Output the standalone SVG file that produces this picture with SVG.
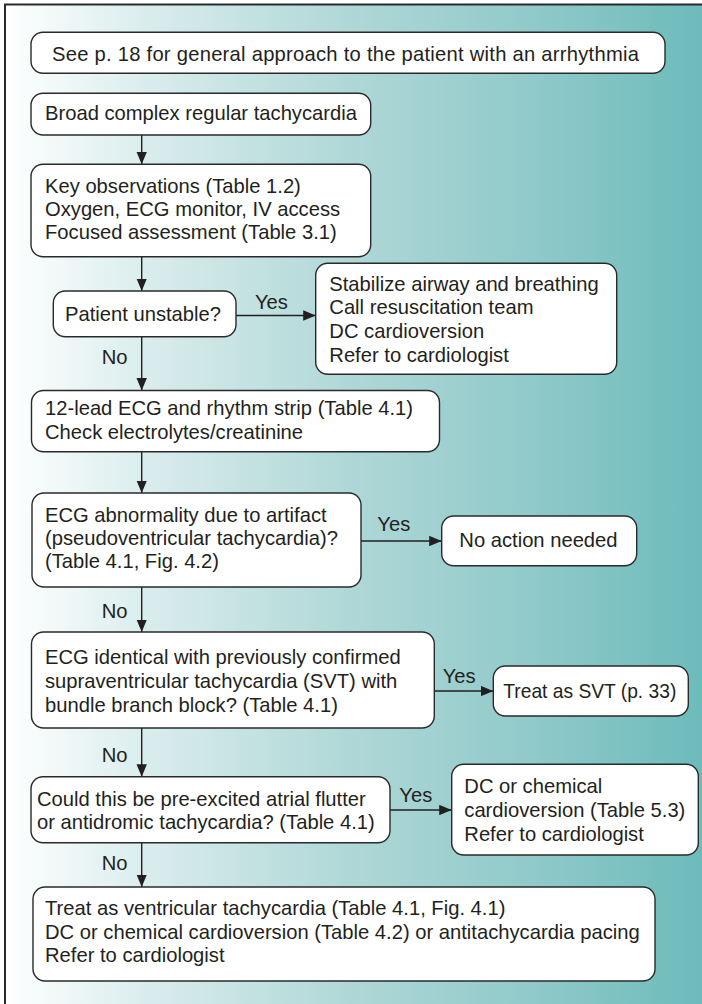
<svg xmlns="http://www.w3.org/2000/svg" width="702" height="1004" viewBox="0 0 702 1004">
<defs>
<linearGradient id="bg" gradientUnits="userSpaceOnUse" x1="5" y1="0" x2="702" y2="0">
<stop offset="0" stop-color="#ffffff"/>
<stop offset="0.2" stop-color="#daeded"/>
<stop offset="0.5" stop-color="#afd7d7"/>
<stop offset="0.75" stop-color="#91caca"/>
<stop offset="1" stop-color="#6dbbbb"/>
</linearGradient>
<marker id="ah" viewBox="0 0 12 10" refX="12" refY="5" markerWidth="12.5" markerHeight="10.5" markerUnits="userSpaceOnUse" orient="auto">
<path d="M0,0 L12,5 L0,10 z" fill="#231f20"/>
</marker>
<style>
.box{fill:#ffffff;stroke:#2a2a2a;stroke-width:1.4}
.t{font-family:"Liberation Sans",Arial,sans-serif;font-size:20.2px;fill:#231f20}
.c{fill:none;stroke:#231f20;stroke-width:1.4;marker-end:url(#ah)}
</style>
</defs>
<rect x="0" y="0" width="702" height="1004" fill="#ffffff"/>
<rect x="5" y="4.5" width="697" height="999.5" fill="url(#bg)"/>
<path d="M5,1004 V4.5 H702" fill="none" stroke="#2a2a2a" stroke-width="2"/>

<g id="connectors">
<line class="c" x1="141.7" y1="135" x2="141.7" y2="164.3"/>
<line class="c" x1="141.7" y1="256.7" x2="141.7" y2="291"/>
<line class="c" x1="236" y1="315.5" x2="315.7" y2="315.5"/>
<text class="t" x="255" y="309.3">Yes</text>
<line class="c" x1="141.7" y1="336.7" x2="141.7" y2="390.5"/>
<text class="t" x="101.7" y="364">No</text>
<line class="c" x1="141.7" y1="451.7" x2="141.7" y2="493"/>
<line class="c" x1="361" y1="541" x2="441.7" y2="541"/>
<text class="t" x="377.3" y="531">Yes</text>
<line class="c" x1="141.7" y1="587" x2="141.7" y2="632"/>
<text class="t" x="101.7" y="618.3">No</text>
<line class="c" x1="434.3" y1="691" x2="493.3" y2="691"/>
<text class="t" x="442.7" y="682.7">Yes</text>
<line class="c" x1="141.7" y1="728" x2="141.7" y2="776.7"/>
<text class="t" x="101.7" y="761.7">No</text>
<line class="c" x1="390" y1="810" x2="451.7" y2="810"/>
<text class="t" x="399.3" y="801.7">Yes</text>
<line class="c" x1="141.7" y1="842.7" x2="141.7" y2="887"/>
<text class="t" x="101.7" y="870">No</text>
</g>

<g id="n1">
<rect class="box" x="31" y="32.3" width="634" height="41" rx="12"/>
<text class="t" x="52" y="61" textLength="587">See p. 18 for general approach to the patient with an arrhythmia</text>
</g>
<g id="n2">
<rect class="box" x="31" y="93.3" width="339.7" height="41.7" rx="12"/>
<text class="t" x="45" y="120">Broad complex regular tachycardia</text>
</g>
<g id="n3">
<rect class="box" x="31" y="164.3" width="339.7" height="92.4" rx="12"/>
<text class="t" x="45" y="192.7">Key observations (Table 1.2)</text>
<text class="t" x="45" y="216">Oxygen, ECG monitor, IV access</text>
<text class="t" x="45" y="239.3">Focused assessment (Table 3.1)</text>
</g>
<g id="n4">
<rect class="box" x="53.3" y="291" width="182.7" height="45.7" rx="12"/>
<text class="t" x="65" y="320.7">Patient unstable?</text>
</g>
<g id="n5">
<rect class="box" x="315.7" y="263.3" width="301" height="111" rx="12"/>
<text class="t" x="329.3" y="290.7">Stabilize airway and breathing</text>
<text class="t" x="329.3" y="314">Call resuscitation team</text>
<text class="t" x="329.3" y="337.7">DC cardioversion</text>
<text class="t" x="329.3" y="361.7">Refer to cardiologist</text>
</g>
<g id="n6">
<rect class="box" x="31.5" y="390.5" width="408" height="61.2" rx="12"/>
<text class="t" x="45" y="415">12-lead ECG and rhythm strip (Table 4.1)</text>
<text class="t" x="45" y="439.3">Check electrolytes/creatinine</text>
</g>
<g id="n7">
<rect class="box" x="32" y="493" width="329" height="94" rx="12"/>
<text class="t" x="45" y="521.7">ECG abnormality due to artifact</text>
<text class="t" x="45" y="545">(pseudoventricular tachycardia)?</text>
<text class="t" x="45" y="568.3">(Table 4.1, Fig. 4.2)</text>
</g>
<g id="n8">
<rect class="box" x="441.7" y="516" width="195" height="49.7" rx="12"/>
<text class="t" x="459.3" y="546.7">No action needed</text>
</g>
<g id="n9">
<rect class="box" x="31.5" y="632" width="402.8" height="96" rx="12"/>
<text class="t" x="45" y="663.5">ECG identical with previously confirmed</text>
<text class="t" x="45" y="687.5">supraventricular tachycardia (SVT) with</text>
<text class="t" x="45" y="711.5">bundle branch block? (Table 4.1)</text>
</g>
<g id="n10">
<rect class="box" x="493.3" y="666" width="195" height="50" rx="12"/>
<text class="t" x="503.3" y="698.3" textLength="173" lengthAdjust="spacingAndGlyphs">Treat as SVT (p. 33)</text>
</g>
<g id="n11">
<rect class="box" x="31" y="776.7" width="359" height="66" rx="12"/>
<text class="t" x="37" y="805.5">Could this be pre-excited atrial flutter</text>
<text class="t" x="37" y="828.5">or antidromic tachycardia? (Table 4.1)</text>
</g>
<g id="n12">
<rect class="box" x="451.7" y="764.3" width="246.6" height="90.7" rx="12"/>
<text class="t" x="464.3" y="792.7">DC or chemical</text>
<text class="t" x="464.3" y="816.7">cardioversion (Table 5.3)</text>
<text class="t" x="464.3" y="840.7">Refer to cardiologist</text>
</g>
<g id="n13">
<rect class="box" x="33" y="887" width="622" height="94" rx="12"/>
<text class="t" x="45" y="915.3">Treat as ventricular tachycardia (Table 4.1, Fig. 4.1)</text>
<text class="t" x="45" y="938.8">DC or chemical cardioversion (Table 4.2) or antitachycardia pacing</text>
<text class="t" x="45" y="961.7">Refer to cardiologist</text>
</g>
</svg>
